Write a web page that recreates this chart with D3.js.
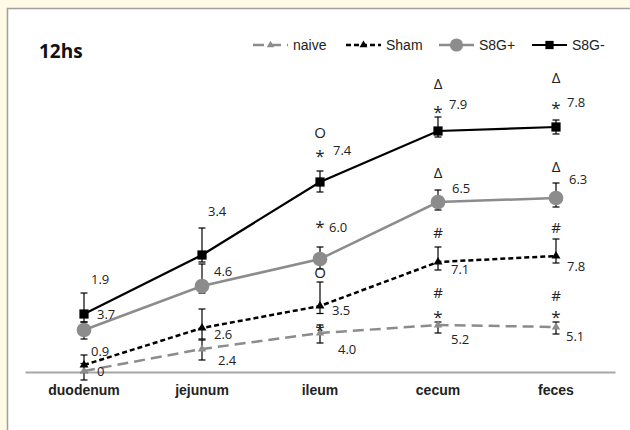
<!DOCTYPE html>
<html>
<head>
<meta charset="utf-8">
<script src="https://cdn.jsdelivr.net/npm/d3@7"></script>
<style>
    body { margin: 0; background: #fffae6; }
    svg { display: block; }
</style>
</head>
<body>
<div id="chart"></div>
<script>
//Chart values. The y values are on the plot's own (hidden) scale, the labels are what the figure prints.
const categories = ["duodenum", "jejunum", "ileum", "cecum", "feces"];
const seriesNames = ["naive", "Sham", "S8G+", "S8G-"];

const naiveValues = [0.04, 0.92, 1.56, 1.88, 1.80];
const shamValues = [0.28, 1.76, 2.64, 4.40, 4.64];
const s8gPlusValues = [1.68, 3.44, 4.52, 6.80, 6.96];
const s8gMinusValues = [2.32, 4.68, 7.60, 9.64, 9.80];

const naiveErrUp = [0.30, 0.36, 0.32, 0.12, 0.20];
const naiveErrDown = [0.36, 0.44, 0.40, 0.32, 0.28];
const shamErrUp = [0.40, 0.76, 0.96, 0.60, 0.68];
const shamErrDown = [0.30, 0.44, 0.30, 0.32, 0.28];
const s8gPlusErrUp = [0.32, 0.88, 0.48, 0.48, 0.60];
const s8gPlusErrDown = [0.36, 0.28, 0.40, 0.32, 0.36];
const s8gMinusErrUp = [0.84, 1.08, 0.44, 0.56, 0.28];
const s8gMinusErrDown = [0.32, 0.28, 0.40, 0.24, 0.28];

const naiveLabels = ["0", "2.4", "4.0", "5.2", "5.1"];
const shamLabels = ["0.9", "2.6", "3.5", "7.1", "7.8"];
const s8gPlusLabels = ["3.7", "4.6", "6.0", "6.5", "6.3"];
const s8gMinusLabels = ["1.9", "3.4", "7.4", "7.9", "7.8"];

//significance marks, top to bottom
const naiveMarks = [[], [], ["*"], ["#", "*"], ["#", "*"]];
const shamMarks = [[], [], ["O"], ["#"], ["#"]];
const s8gPlusMarks = [[], [], ["*"], ["Δ"], ["Δ"]];
const s8gMinusMarks = [[], [], ["O", "*"], ["Δ", "*"], ["Δ", "*"]];

const titleText = "12hs";

//label placement relative to each point (dx, dy), kept apart from the data
const labelOffsets = [
    [[13, 0], [16, 11], [18, 16], [13, 14], [10, 9]],
    [[7, -14], [12, 6], [12, 4], [13, 7], [11, 10]],
    [[13, -16], [12, -15], [9, -32], [14, -14], [13, -19]],
    [[7, -35], [6, -44], [13, -32], [11, -27], [11, -25]]
];
const markOffsets = [
    [[], [], [-8], [-32, -13], [-31, -15]],
    [[], [], [-33], [-29], [-28]],
    [[], [], [-37], [-29], [-31]],
    [[], [], [-49, -31], [-47, -24], [-49, -24]]
];

const series = seriesNames.map((name, i) => ({
    name: name,
    values: [naiveValues, shamValues, s8gPlusValues, s8gMinusValues][i],
    errUp: [naiveErrUp, shamErrUp, s8gPlusErrUp, s8gMinusErrUp][i],
    errDown: [naiveErrDown, shamErrDown, s8gPlusErrDown, s8gMinusErrDown][i],
    labels: [naiveLabels, shamLabels, s8gPlusLabels, s8gMinusLabels][i],
    marks: [naiveMarks, shamMarks, s8gPlusMarks, s8gMinusMarks][i]
}));

const styles = {
    "naive": {stroke: "#8c8c8c", dash: "11,6", width: 2.5, symbol: d3.symbolTriangle, size: 30, fill: "#8c8c8c"},
    "Sham": {stroke: "#000", dash: "5,3", width: 2.5, symbol: d3.symbolTriangle, size: 34, fill: "#000"},
    "S8G+": {stroke: "#8c8c8c", dash: null, width: 2.5, symbol: d3.symbolCircle, size: 170, fill: "#8c8c8c"},
    "S8G-": {stroke: "#000", dash: null, width: 2.2, symbol: d3.symbolSquare, size: 85, fill: "#000"}
};

const numFont = "'Open Sans', 'DejaVu Sans', sans-serif";
const legendFont = "'Liberation Sans', Arial, sans-serif";

const svg = d3.select("#chart").append("svg")
    .attr("width", 630)
    .attr("height", 430);

svg.append("rect")
    .attr("width", 630)
    .attr("height", 430)
    .attr("fill", "#fffae6");

//white plot panel, runs off the right and bottom edge
svg.append("rect")
    .attr("x", 7.5)
    .attr("y", 8.5)
    .attr("width", 650)
    .attr("height", 450)
    .attr("fill", "#fff")
    .attr("stroke", "#a0a0a0")
    .attr("stroke-width", 1.5);

const xScale = d3.scaleBand()
    .domain(categories)
    .range([25, 615]);
const yScale = d3.scaleLinear()
    .domain([0, 12])
    .range([372, 72]);

const cx = (c) => xScale(c) + xScale.bandwidth() / 2;

//category axis
const axisG = svg.append("g")
    .attr("transform", "translate(0, 372)")
    .call(d3.axisBottom(xScale).tickSize(0).tickPadding(13));
axisG.select(".domain")
    .attr("stroke", "#a6a6a6")
    .attr("stroke-width", 2);
axisG.selectAll("text")
    .attr("font-family", "'Liberation Sans', Arial, sans-serif")
    .attr("font-weight", "bold")
    .attr("font-size", 14)
    .attr("fill", "#222");

svg.append("text")
    .attr("x", 39)
    .attr("y", 58)
    .attr("font-family", numFont)
    .attr("font-weight", "bold")
    .attr("font-size", 19)
    .attr("fill", "#111")
    .text(titleText);

const line = d3.line()
    .x((d, i) => cx(categories[i]))
    .y((d) => yScale(d));

series.forEach((s) => {
    const st = styles[s.name];
    svg.append("path")
        .datum(s.values)
        .attr("fill", "none")
        .attr("stroke", st.stroke)
        .attr("stroke-width", st.width)
        .attr("stroke-dasharray", st.dash)
        .attr("d", line);
});

//error bars
series.forEach((s) => {
    const g = svg.append("g")
        .attr("stroke", "#000")
        .attr("stroke-width", 1.2);
    s.values.forEach((v, i) => {
        const x = cx(categories[i]);
        const top = yScale(v + s.errUp[i]);
        const bottom = yScale(v - s.errDown[i]);
        g.append("line").attr("x1", x).attr("x2", x).attr("y1", top).attr("y2", bottom);
        g.append("line").attr("x1", x - 3.5).attr("x2", x + 3.5).attr("y1", top).attr("y2", top);
        g.append("line").attr("x1", x - 3.5).attr("x2", x + 3.5).attr("y1", bottom).attr("y2", bottom);
    });
});

//markers
series.forEach((s) => {
    const st = styles[s.name];
    svg.append("g").selectAll("path")
        .data(s.values)
        .join("path")
        .attr("transform", (d, i) => "translate(" + cx(categories[i]) + "," + yScale(d) + ")")
        .attr("fill", st.fill)
        .attr("d", d3.symbol().type(st.symbol).size(st.size));
});

//value labels and significance marks
series.forEach((s, si) => {
    s.values.forEach((v, i) => {
        const x = cx(categories[i]);
        const y = yScale(v);
        svg.append("text")
            .attr("x", x + labelOffsets[si][i][0])
            .attr("y", y + labelOffsets[si][i][1])
            .attr("dy", "0.36em")
            .attr("font-family", numFont)
            .attr("font-size", 13)
            .attr("fill", "#222")
            .text(s.labels[i]);
        s.marks[i].forEach((m, k) => {
            svg.append("text")
                .attr("x", x)
                .attr("y", y + markOffsets[si][i][k])
                .attr("dy", m === "*" ? "0.62em" : "0.36em")
                .attr("text-anchor", "middle")
                .attr("font-family", numFont)
                .attr("font-size", m === "*" ? 17 : 15)
                .attr("fill", "#222")
                .text(m);
        });
    });
});

//legend: equal sample lengths, entries spaced evenly
const legendStart = 253;
const legendStep = 93;
const sampleLen = 35;
seriesNames.forEach((name, i) => {
    const st = styles[name];
    const g = svg.append("g").attr("transform", "translate(" + (legendStart + i * legendStep) + ", 45)");
    g.append("line")
        .attr("x1", 0).attr("x2", sampleLen)
        .attr("stroke", st.stroke)
        .attr("stroke-width", st.width)
        .attr("stroke-dasharray", st.dash);
    g.append("path")
        .attr("transform", "translate(" + (sampleLen / 2) + ", 0)")
        .attr("fill", st.fill)
        .attr("d", d3.symbol().type(st.symbol).size(st.size * 0.8));
    g.append("text")
        .attr("x", sampleLen + 5)
        .attr("dy", "0.35em")
        .attr("font-family", legendFont)
        .attr("font-size", 14)
        .attr("fill", "#222")
        .text(name);
});
</script>
</body>
</html>
